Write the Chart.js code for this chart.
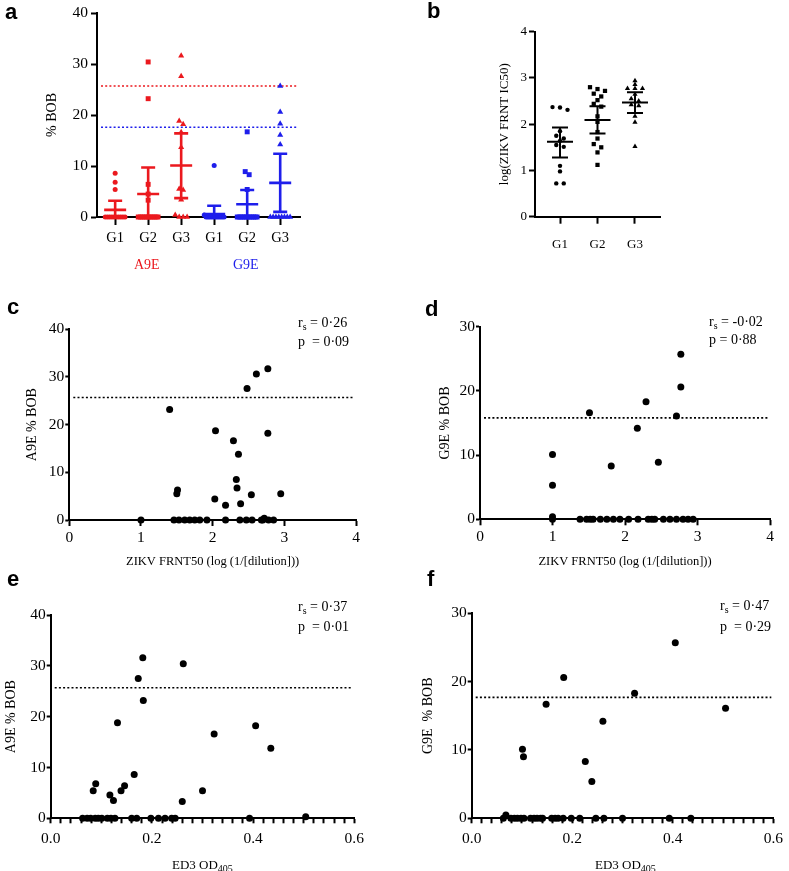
<!DOCTYPE html>
<html>
<head>
<meta charset="utf-8">
<script src="https://cdn.jsdelivr.net/npm/chart.js@4/dist/chart.umd.min.js"></script>
<style>
body { margin: 0; background: #fff; width: 789px; height: 871px; position: relative; overflow: hidden; font-family: "Liberation Serif", "Times New Roman", serif; }
.p { position: absolute; }
.lt { position: absolute; font: bold 22px "Liberation Sans", Arial, sans-serif; line-height: 1; }
.tx { position: absolute; font-size: 14px; line-height: 1; white-space: nowrap; color: #000; }
.tx sub { font-size: 10px; vertical-align: -3px; line-height: 0; }
.xt { font-size: 13px; }
</style>
</head>
<body>

<div class="p"><canvas id="chartA"></canvas></div>
<div class="p"><canvas id="chartB"></canvas></div>
<div class="p"><canvas id="chartC"></canvas></div>
<div class="p"><canvas id="chartD"></canvas></div>
<div class="p"><canvas id="chartE"></canvas></div>
<div class="p"><canvas id="chartF"></canvas></div>

<div class="lt" style="left:5px;top:1px">a</div>
<div class="lt" style="left:427px;top:0px">b</div>
<div class="lt" style="left:7px;top:296px">c</div>
<div class="lt" style="left:425px;top:298px">d</div>
<div class="lt" style="left:7px;top:568px">e</div>
<div class="lt" style="left:427px;top:568px">f</div>

<div class="tx" style="left:134px;top:258px;color:rgb(235,25,30)">A9E</div>
<div class="tx" style="left:233px;top:258px;color:rgb(30,30,235)">G9E</div>

<div class="tx" style="left:298px;top:316px">r<sub>s</sub> = 0·26</div>
<div class="tx" style="left:298px;top:335px">p&nbsp; = 0·09</div>
<div class="tx" style="left:709px;top:315px">r<sub>s</sub> = -0·02</div>
<div class="tx" style="left:709px;top:333px">p = 0·88</div>
<div class="tx" style="left:298px;top:600px">r<sub>s</sub> = 0·37</div>
<div class="tx" style="left:298px;top:620px">p&nbsp; = 0·01</div>
<div class="tx" style="left:720px;top:599px">r<sub>s</sub> = 0·47</div>
<div class="tx" style="left:720px;top:620px">p&nbsp; = 0·29</div>

<div class="tx xt" style="left:172px;top:858px">ED3 OD<sub>405</sub></div>
<div class="tx xt" style="left:595px;top:858px">ED3 OD<sub>405</sub></div>

<script>
const serif = '"Liberation Serif", "Times New Roman", serif';
const red = 'rgb(235,25,30)';
const blue = 'rgb(30,30,235)';

// panel a: % BOB per group
const groupLabels = ['G1', 'G2', 'G3'];
const a9eG1 = [8.6, 6.8, 5.4, 0, 0, 0, 0, 0, 0, 0, 0, 0, 0];
const a9eG2 = [30.4, 23.2, 6.4, 4.5, 3.3, 0, 0, 0, 0, 0, 0, 0, 0, 0, 0, 0];
const a9eG3 = [31.6, 27.6, 18.8, 18.2, 16.6, 13.7, 5.5, 5.3, 3.4, 0.4, 0, 0, 0];
const g9eG1 = [10.1, 0.4, 0, 0, 0, 0, 0, 0, 0, 0, 0, 0, 0];
const g9eG2 = [16.7, 8.9, 8.3, 5.4, 0, 0, 0, 0, 0, 0, 0, 0, 0, 0, 0, 0];
const g9eG3 = [25.7, 20.6, 18.3, 16.1, 14.2, 0, 0, 0, 0, 0, 0, 0, 0];
const a9eMean = [1.4, 4.5, 10.1];
const a9eLow = [0, 0, 3.7];
const a9eHigh = [3.2, 9.7, 16.4];
const g9eMean = [0.6, 2.5, 6.7];
const g9eLow = [0, 0, 1.0];
const g9eHigh = [2.2, 5.3, 12.4];
const a9eCutoff = 25.7;
const g9eCutoff = 17.6;

// panel b: log(ZIKV FRNT IC50)
const frntG1 = [2.37, 2.36, 2.31, 1.85, 1.75, 1.69, 1.64, 1.55, 1.51, 1.10, 0.98, 0.72, 0.72];
const frntG2 = [2.80, 2.76, 2.72, 2.66, 2.60, 2.52, 2.44, 2.38, 2.17, 2.05, 1.83, 1.69, 1.57, 1.50, 1.39, 1.12];
const frntG3 = [2.94, 2.86, 2.77, 2.77, 2.77, 2.65, 2.55, 2.50, 2.42, 2.40, 2.17, 2.04, 1.52];
const frntMean = [1.62, 2.09, 2.47];
const frntLow = [1.28, 1.80, 2.24];
const frntHigh = [1.93, 2.39, 2.69];

// panel c: FRNT50 vs A9E % BOB
const cFrnt = [1.00, 1.40, 1.51, 1.50, 1.46, 1.53, 1.61, 1.68, 1.75, 1.82, 1.92, 2.03, 2.04, 2.18, 2.18, 2.29, 2.33, 2.34,
               2.36, 2.39, 2.38, 2.47, 2.55, 2.48, 2.54, 2.61, 2.68, 2.70, 2.72, 2.78, 2.85, 2.77, 2.77, 2.95];
const cBob = [0, 23.2, 6.3, 5.5, 0, 0, 0, 0, 0, 0, 0, 4.4, 18.7, 3.1, 0, 16.6, 8.5, 6.7,
              13.8, 3.4, 0, 0, 0, 27.6, 5.3, 30.6, 0, 0, 0.35, 0, 0, 31.7, 18.2, 5.5];
const cCutoff = 25.7;

// panel d: FRNT50 vs G9E % BOB
const dFrnt = [1.00, 1.00, 1.00, 1.00, 1.51, 1.81, 2.17, 2.29, 2.46, 2.71, 2.77, 2.77,
               1.38, 1.47, 1.52, 1.56, 1.66, 1.75, 1.84, 1.93, 2.05, 2.18, 2.32, 2.37, 2.41, 2.53, 2.62, 2.71, 2.80, 2.87, 2.94];
const dBob = [10.1, 5.3, 0.4, 0, 16.6, 8.3, 14.2, 18.3, 8.9, 16.1, 25.7, 20.6,
              0, 0, 0, 0, 0, 0, 0, 0, 0, 0, 0, 0, 0, 0, 0, 0, 0, 0, 0];
const dCutoff = 15.8;

// panel e: ED3 OD405 vs A9E % BOB
const eOd = [0.063, 0.072, 0.079, 0.088, 0.094, 0.101, 0.112, 0.119, 0.127, 0.160, 0.170, 0.198, 0.213, 0.226, 0.239, 0.246, 0.393,
             0.084, 0.089, 0.117, 0.124, 0.139, 0.146, 0.132, 0.165, 0.173, 0.182, 0.183, 0.260, 0.262, 0.300, 0.323, 0.405, 0.435, 0.504];
const eBob = [0, 0, 0, 0, 0, 0, 0, 0, 0, 0, 0, 0, 0, 0, 0, 0, 0,
              5.4, 6.8, 4.6, 3.5, 5.4, 6.4, 18.8, 8.6, 27.5, 31.6, 23.2, 3.3, 30.4, 5.4, 16.6, 18.2, 13.8, 0.3];
const eCutoff = 25.7;

// panel f: ED3 OD405 vs G9E % BOB
const fOd = [0.068, 0.063, 0.078, 0.085, 0.091, 0.098, 0.104, 0.117, 0.124, 0.130, 0.137, 0.141, 0.159, 0.166, 0.172, 0.182,
             0.198, 0.215, 0.247, 0.263, 0.300, 0.393, 0.436,
             0.101, 0.103, 0.148, 0.183, 0.226, 0.239, 0.261, 0.324, 0.405, 0.505];
const fBob = [0.5, 0, 0, 0, 0, 0, 0, 0, 0, 0, 0, 0, 0, 0, 0, 0,
              0, 0, 0, 0, 0, 0, 0,
              10.1, 9.0, 16.7, 20.6, 8.3, 5.4, 14.2, 18.3, 25.7, 16.1];
const fCutoff = 17.7;

// spread overlapping values sideways around a group centre
function spread(vals, center, bin, step, maxHalf) {
    const xs = new Array(vals.length);
    const used = new Array(vals.length).fill(false);
    vals.forEach((v, i) => {
        if (used[i]) return;
        const idx = [];
        vals.forEach((w, j) => {
            if (!used[j] && Math.abs(w - v) < bin) { idx.push(j); used[j] = true; }
        });
        const s = idx.length > 1 ? Math.min(step, 2 * maxHalf / (idx.length - 1)) : 0;
        idx.forEach((j, k) => { xs[j] = center + (k - (idx.length - 1) / 2) * s; });
    });
    return xs;
}

function errorBars(groups, lw, halfMean, halfCap) {
    return {
        id: 'errorBars',
        afterDatasetsDraw(chart) {
            const { ctx, scales: { x, y } } = chart;
            ctx.save();
            ctx.lineWidth = lw;
            groups.forEach(g => {
                const px = x.getPixelForValue(g.x);
                const pm = y.getPixelForValue(g.mean);
                const pl = y.getPixelForValue(g.low);
                const ph = y.getPixelForValue(g.high);
                ctx.strokeStyle = g.color;
                ctx.beginPath();
                ctx.moveTo(px, pl); ctx.lineTo(px, ph);
                ctx.moveTo(px - halfMean, pm); ctx.lineTo(px + halfMean, pm);
                ctx.moveTo(px - halfCap, pl); ctx.lineTo(px + halfCap, pl);
                ctx.moveTo(px - halfCap, ph); ctx.lineTo(px + halfCap, ph);
                ctx.stroke();
            });
            ctx.restore();
        }
    };
}

function cutoffs(lines) {
    return {
        id: 'cutoffs',
        beforeDatasetsDraw(chart) {
            const { ctx, chartArea, scales: { y } } = chart;
            ctx.save();
            ctx.setLineDash([2, 2.2]);
            ctx.lineWidth = 1.6;
            lines.forEach(l => {
                const py = y.getPixelForValue(l.value);
                ctx.strokeStyle = l.color;
                ctx.beginPath();
                ctx.moveTo(chartArea.left + 4, py);
                ctx.lineTo(chartArea.right - 2, py);
                ctx.stroke();
            });
            ctx.restore();
        }
    };
}

function makeChart(id, box, area, o) {
    const el = document.getElementById(id);
    Object.assign(el.parentNode.style, {
        left: box.x + 'px', top: box.y + 'px', width: box.w + 'px', height: box.h + 'px'
    });
    const tickFont = { family: serif, size: o.tfs };
    const yFont = { family: serif, size: o.fs };
    const xFont = { family: serif, size: o.xfs || o.fs };
    const yw = area.l - box.x;
    const xh = box.y + box.h - area.b;
    return new Chart(el, {
        type: 'scatter',
        data: { datasets: o.datasets },
        options: {
            responsive: true,
            maintainAspectRatio: false,
            animation: false,
            devicePixelRatio: 1,
            clip: false,
            layout: { padding: { left: 0, top: area.t - box.y, right: box.x + box.w - area.r, bottom: 0 } },
            plugins: { legend: { display: false }, tooltip: { enabled: false } },
            scales: {
                x: {
                    type: 'linear', min: o.xMin, max: o.xMax,
                    border: { display: true, color: '#000', width: 2 },
                    grid: { drawOnChartArea: false, drawTicks: true, tickLength: o.xtl, tickColor: '#000', tickWidth: 2 },
                    ticks: Object.assign({ color: '#000', padding: o.xpad, font: o.xtfs ? { family: serif, size: o.xtfs } : tickFont, maxRotation: 0, autoSkip: false }, o.xTicks || {}),
                    title: o.xTitle ? {
                        display: true, text: o.xTitle, color: '#000', font: xFont,
                        padding: { top: 0, bottom: box.y + box.h - o.xTitleY - xFont.size * 0.6 }
                    } : { display: false },
                    afterBuildTicks: o.xTickVals ? s => { s.ticks = o.xTickVals.map(v => ({ value: v })); } : undefined,
                    afterFit: s => { s.height = xh; }
                },
                y: {
                    type: 'linear', min: 0, max: o.yMax,
                    border: { display: true, color: '#000', width: 2 },
                    grid: { drawOnChartArea: false, drawTicks: true, tickLength: o.ytl, tickColor: '#000', tickWidth: 2 },
                    ticks: { color: '#000', padding: o.ypad, font: tickFont, stepSize: o.yStep },
                    title: {
                        display: true, text: o.yTitle, color: '#000', font: yFont,
                        padding: { top: o.yTitleX - box.x - yFont.size * 0.6, bottom: 0 }
                    },
                    afterFit: s => { s.width = yw; }
                }
            }
        },
        plugins: o.plugins || []
    });
}

function dots(xs, ys, r) {
    return [{
        data: xs.map((x, i) => ({ x, y: ys[i] })),
        pointStyle: 'circle', pointRadius: r, pointBackgroundColor: '#000', pointBorderWidth: 0, showLine: false
    }];
}

// ---- panel a ----
const aGroups = [a9eG1, a9eG2, a9eG3, g9eG1, g9eG2, g9eG3];
const shapes = ['circle', 'rect', 'triangle'];
const aDatasets = aGroups.map((vals, i) => {
    const xs = spread(vals, i + 1, 1.0, 0.12, 0.3);
    return {
        data: vals.map((v, k) => ({ x: xs[k], y: v })),
        pointStyle: shapes[i % 3],
        pointRadius: i % 3 === 0 ? 2.5 : 3.5,
        pointBackgroundColor: i < 3 ? red : blue,
        pointBorderWidth: 0
    };
});
const aBars = [0, 1, 2].map(i => ({ x: i + 1, mean: a9eMean[i], low: a9eLow[i], high: a9eHigh[i], color: red }))
    .concat([0, 1, 2].map(i => ({ x: i + 4, mean: g9eMean[i], low: g9eLow[i], high: g9eHigh[i], color: blue })));

makeChart('chartA', { x: 0, y: 0, w: 320, h: 275 }, { l: 97, t: 13, r: 300, b: 217 }, {
    fs: 14, tfs: 15.5, xtfs: 14.5, datasets: aDatasets,
    xMin: 0.45, xMax: 6.6, xtl: 8, xpad: 4, xTickVals: [1, 2, 3, 4, 5, 6],
    xTicks: { callback: v => groupLabels[(Math.round(v) - 1) % 3] },
    yMax: 40, yStep: 10, ytl: 6, ypad: 3, yTitle: '% BOB', yTitleX: 52,
    plugins: [cutoffs([{ value: a9eCutoff, color: red }, { value: g9eCutoff, color: blue }]), errorBars(aBars, 2.6, 11, 7)]
});

// ---- panel b ----
const bGroups = [frntG1, frntG2, frntG3];
const bDatasets = bGroups.map((vals, i) => {
    const xs = spread(vals, i + 1, 0.08, 0.2, 0.35);
    return {
        data: vals.map((v, k) => ({ x: xs[k], y: v })),
        pointStyle: shapes[i],
        pointRadius: i === 0 ? 2.2 : 3,
        pointBackgroundColor: '#000',
        pointBorderWidth: 0
    };
});
const bBars = [0, 1, 2].map(i => ({ x: i + 1, mean: frntMean[i], low: frntLow[i], high: frntHigh[i], color: '#000' }));

makeChart('chartB', { x: 420, y: 0, w: 260, h: 275 }, { l: 535, t: 31.7, r: 660, b: 216.7 }, {
    fs: 13, tfs: 13, datasets: bDatasets,
    xMin: 0.333, xMax: 3.667, xtl: 7, xpad: 13, xTickVals: [1, 2, 3],
    xTicks: { callback: v => groupLabels[Math.round(v) - 1] },
    yMax: 4, yStep: 1, ytl: 6, ypad: 2, yTitle: 'log(ZIKV FRNT IC50)', yTitleX: 505,
    plugins: [errorBars(bBars, 2, 13, 8)]
});

// ---- panels c, d ----
const frntTitle = 'ZIKV FRNT50 (log (1/[dilution]))';
makeChart('chartC', { x: 0, y: 290, w: 390, h: 290 }, { l: 69.3, t: 329.3, r: 356, b: 520 }, {
    fs: 14, tfs: 15.5, xfs: 12.5, datasets: dots(cFrnt, cBob, 3.5),
    xMin: 0, xMax: 4, xtl: 6, xpad: 3, xTicks: { stepSize: 1 },
    xTitle: frntTitle, xTitleY: 562,
    yMax: 40, yStep: 10, ytl: 4, ypad: 1, yTitle: 'A9E % BOB', yTitleX: 32,
    plugins: [cutoffs([{ value: cCutoff, color: '#000' }])]
});

makeChart('chartD', { x: 400, y: 290, w: 389, h: 290 }, { l: 480, t: 326.7, r: 770, b: 519.3 }, {
    fs: 14, tfs: 15.5, xfs: 12.5, datasets: dots(dFrnt, dBob, 3.5),
    xMin: 0, xMax: 4, xtl: 6, xpad: 2, xTicks: { stepSize: 1 },
    xTitle: frntTitle, xTitleY: 562,
    yMax: 30, yStep: 10, ytl: 4, ypad: 1, yTitle: 'G9E % BOB', yTitleX: 445,
    plugins: [cutoffs([{ value: dCutoff, color: '#000' }])]
});

// ---- panels e, f ----
const odTicks = {
    stepSize: 0.02, maxTicksLimit: 40,
    callback: v => { const k = Math.round(v * 50); return k % 10 === 0 ? (k / 50).toFixed(1) : ''; }
};
makeChart('chartE', { x: 0, y: 580, w: 390, h: 291 }, { l: 50.7, t: 615, r: 354.3, b: 818.3 }, {
    fs: 14, tfs: 15.5, datasets: dots(eOd, eBob, 3.5),
    xMin: 0, xMax: 0.6, xtl: 5, xpad: 6, xTicks: odTicks,
    yMax: 40, yStep: 10, ytl: 4, ypad: 1, yTitle: 'A9E % BOB', yTitleX: 11,
    plugins: [cutoffs([{ value: eCutoff, color: '#000' }])]
});

makeChart('chartF', { x: 400, y: 580, w: 389, h: 291 }, { l: 471.7, t: 613.3, r: 779.3, b: 818.3 }, {
    fs: 14, tfs: 15.5, datasets: dots(fOd, fBob, 3.5),
    xMin: 0, xMax: 0.6, xtl: 5, xpad: 6, xTicks: odTicks,
    yMax: 30, yStep: 10, ytl: 4, ypad: 1, yTitle: 'G9E  % BOB', yTitleX: 428,
    plugins: [cutoffs([{ value: fCutoff, color: '#000' }])]
});
</script>
</body>
</html>
